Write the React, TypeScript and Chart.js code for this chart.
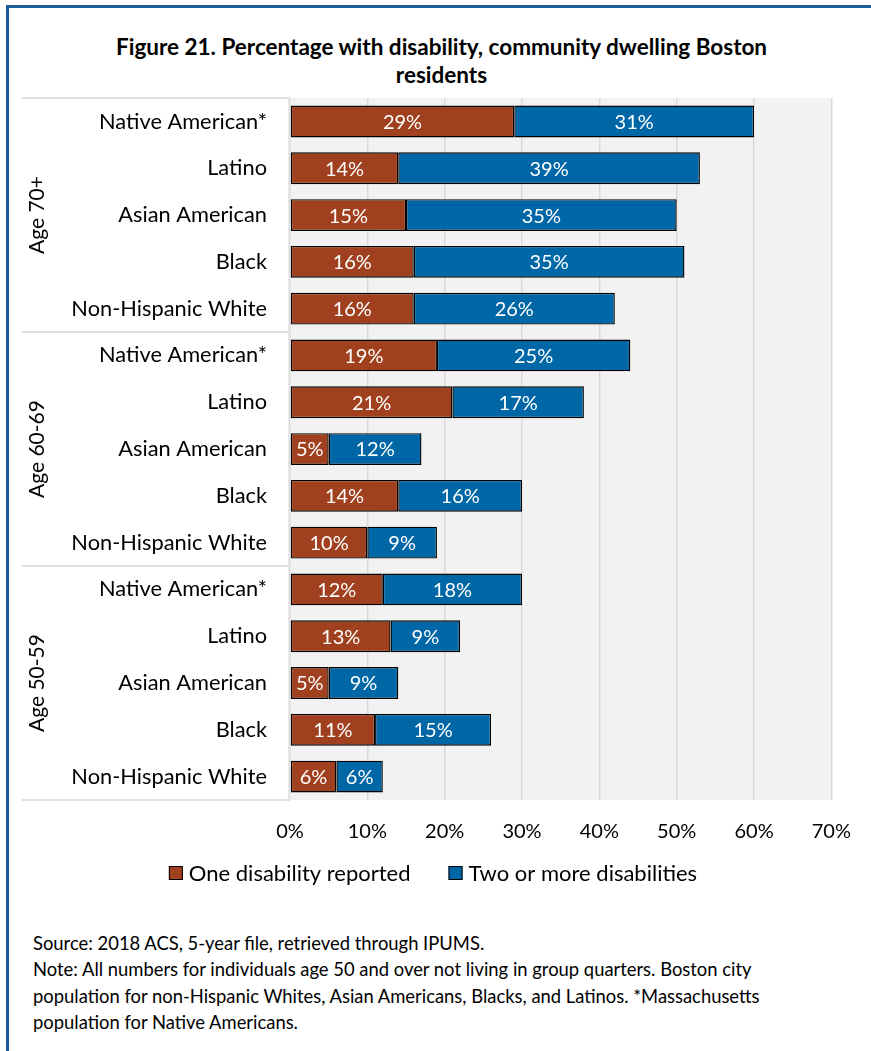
import { useEffect, useRef } from "react";
import { Chart, registerables } from "chart.js";

Chart.register(...registerables);

const FONT = "Lato, 'Open Sans', sans-serif";

// Age bands, each spanning five population rows (top to bottom)
const ageGroups = ["Age 70+", "Age 60-69", "Age 50-59"];
const populations = ["Native American*", "Latino", "Asian American", "Black", "Non-Hispanic White"];
const rowLabels = ageGroups.flatMap(() => populations);

// Percent of residents per row
const oneDisability = [29, 14, 15, 16, 16, 19, 21, 5, 14, 10, 12, 13, 5, 11, 6];
const twoOrMore = [31, 39, 35, 35, 26, 25, 17, 12, 16, 9, 18, 9, 9, 15, 6];

const seriesNames = ["One disability reported", "Two or more disabilities"];
const seriesColors = ["#A1401F", "#0067A7"];

const xMax = 70;
const xStep = 10;

const plotBg = {
  id: "plotBg",
  beforeDraw(chart: any) {
    const { ctx, chartArea } = chart;
    ctx.save();
    ctx.fillStyle = "#F2F2F2";
    ctx.fillRect(chartArea.left, chartArea.top, chartArea.right - chartArea.left, chartArea.bottom - chartArea.top);
    ctx.restore();
  },
};

const groupPanel = {
  id: "groupPanel",
  afterDraw(chart: any) {
    const { ctx, chartArea, scales } = chart;
    const y = scales.y;
    const panelLeft = 22;
    const panelRight = chartArea.left;
    ctx.save();
    ctx.strokeStyle = "#D6D6D6";
    ctx.lineWidth = 1.5;
    const bounds: number[] = [chartArea.top];
    for (let g = 1; g < ageGroups.length; g++) {
      const i = g * populations.length;
      bounds.push((y.getPixelForValue(i - 1) + y.getPixelForValue(i)) / 2);
    }
    bounds.push(chartArea.bottom);
    bounds.forEach((b) => {
      ctx.beginPath();
      ctx.moveTo(panelLeft, b);
      ctx.lineTo(panelRight, b);
      ctx.stroke();
    });
    ctx.strokeStyle = "#E2E2E2";
    ctx.beginPath();
    ctx.moveTo(panelRight - 1, chartArea.top);
    ctx.lineTo(panelRight - 1, chartArea.bottom);
    ctx.stroke();

    // rotated age-band labels
    ctx.fillStyle = "#000";
    ctx.font = `21px ${FONT}`;
    ctx.textAlign = "center";
    ctx.textBaseline = "middle";
    ageGroups.forEach((name, g) => {
      const first = g * populations.length;
      const last = first + populations.length - 1;
      const cy = (y.getPixelForValue(first) + y.getPixelForValue(last)) / 2;
      ctx.save();
      ctx.translate(37, cy);
      ctx.rotate(-Math.PI / 2);
      ctx.fillText(name, 0, 0);
      ctx.restore();
    });
    ctx.restore();
  },
};

const valueLabels = {
  id: "valueLabels",
  afterDatasetsDraw(chart: any) {
    const { ctx } = chart;
    ctx.save();
    ctx.fillStyle = "#FFFFFF";
    ctx.font = `20px ${FONT}`;
    ctx.textAlign = "center";
    ctx.textBaseline = "middle";
    chart.data.datasets.forEach((ds: any, di: number) => {
      const meta = chart.getDatasetMeta(di);
      meta.data.forEach((bar: any, i: number) => {
        const v = ds.data[i];
        ctx.fillText(`${v}%`, (bar.x + bar.base) / 2, bar.y + 1);
      });
    });
    ctx.restore();
  },
};

const bottomLegend = {
  id: "bottomLegend",
  afterDraw(chart: any) {
    const { ctx, chartArea } = chart;
    const box = 14;
    const gap = 6;
    const itemGap = 38;
    ctx.save();
    ctx.font = `22px ${FONT}`;
    ctx.textBaseline = "middle";
    ctx.textAlign = "left";
    const widths = seriesNames.map((n) => box + gap + ctx.measureText(n).width);
    const total = widths.reduce((a, b) => a + b, 0) + itemGap * (widths.length - 1);
    let x = 433 - total / 2;
    const cy = chartArea.bottom + 73;
    seriesNames.forEach((n, i) => {
      ctx.fillStyle = seriesColors[i];
      ctx.fillRect(x, cy - box / 2, box, box);
      ctx.strokeStyle = "#000";
      ctx.lineWidth = 1;
      ctx.strokeRect(x + 0.5, cy - box / 2 + 0.5, box - 1, box - 1);
      ctx.fillStyle = "#000";
      ctx.fillText(n, x + box + gap, cy + 1);
      x += widths[i] + itemGap;
    });
    ctx.restore();
  },
};

function DisabilityChart() {
  const ref = useRef<HTMLCanvasElement>(null);
  useEffect(() => {
    if (!ref.current) return;
    const chart = new Chart(ref.current, {
      type: "bar",
      data: {
        labels: rowLabels,
        datasets: [
          {
            label: seriesNames[0],
            data: oneDisability,
            backgroundColor: seriesColors[0],
            borderColor: "#000",
            borderWidth: 1.4,
            borderSkipped: false,
            categoryPercentage: 1,
            barPercentage: 0.68,
          },
          {
            label: seriesNames[1],
            data: twoOrMore,
            backgroundColor: seriesColors[1],
            borderColor: "#000",
            borderWidth: 1.4,
            borderSkipped: false,
            categoryPercentage: 1,
            barPercentage: 0.68,
          },
        ],
      },
      options: {
        indexAxis: "y",
        responsive: false,
        animation: false,
        devicePixelRatio: 1,
        layout: { padding: { left: 0, right: 36, top: 0, bottom: 40 } },
        plugins: { legend: { display: false }, tooltip: { enabled: false } },
        scales: {
          x: {
            stacked: true,
            min: 0,
            max: xMax,
            border: { display: false },
            grid: { color: "#D9D9D9", lineWidth: 1.5, drawTicks: false },
            ticks: {
              stepSize: xStep,
              padding: 20,
              color: "#000",
              font: { family: FONT, size: 20 },
              callback: (v: any) => `${v}%`,
            },
            afterFit: (s: any) => {
              s.height = 60;
            },
          },
          y: {
            stacked: true,
            border: { display: false },
            grid: { display: false, drawTicks: false },
            ticks: {
              padding: 23,
              color: "#000",
              font: { family: FONT, size: 21.8 },
              autoSkip: false,
            },
            afterFit: (s: any) => {
              s.width = 290;
            },
          },
        },
      },
      plugins: [plotBg, valueLabels, groupPanel, bottomLegend],
    });
    return () => chart.destroy();
  }, []);
  return (
    <canvas
      ref={ref}
      width={871}
      height={838}
      style={{ position: "absolute", left: 0, top: 62, width: 871, height: 838 }}
    />
  );
}

export default function App() {
  useEffect(() => {
    document.body.style.margin = "0";
  }, []);
  return (
    <div style={{ position: "relative", width: 871, height: 1051, overflow: "hidden", background: "#fff", fontFamily: FONT }}>
      <div
        style={{
          position: "absolute",
          left: 6,
          top: 5,
          right: 0,
          bottom: 0,
          borderTop: "3px solid #1B5E97",
          borderLeft: "3px solid #1B5E97",
        }}
      />
      <div
        style={{
          position: "absolute",
          left: 12,
          right: 0,
          top: 33,
          textAlign: "center",
          fontWeight: 700,
          fontSize: 22.5,
          lineHeight: "28px",
          color: "#000",
          whiteSpace: "nowrap",
        }}
      >
        Figure 21. Percentage with disability, community dwelling Boston
        <br />
        residents
      </div>
      <DisabilityChart />
      <div
        style={{
          position: "absolute",
          left: 33,
          top: 930,
          fontSize: 18.4,
          lineHeight: "26.4px",
          color: "#000",
          whiteSpace: "nowrap",
        }}
      >
        Source: 2018 ACS, 5-year file, retrieved through IPUMS.
        <br />
        Note: All numbers for individuals age 50 and over not living in group quarters. Boston city
        <br />
        population for non-Hispanic Whites, Asian Americans, Blacks, and Latinos. *Massachusetts
        <br />
        population for Native Americans.
      </div>
    </div>
  );
}
